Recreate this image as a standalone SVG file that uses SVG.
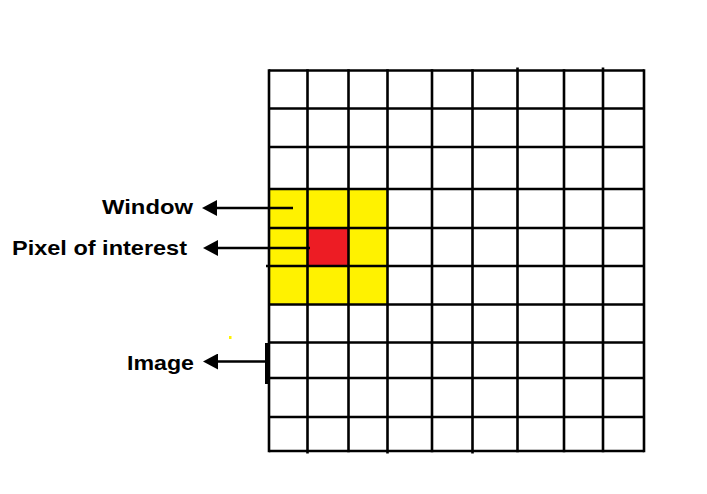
<svg xmlns="http://www.w3.org/2000/svg" width="707" height="494" viewBox="0 0 707 494">
<style>
.g{stroke:#000;stroke-width:2.6;fill:none}
.lbl{font-family:"Liberation Sans",Arial,sans-serif;font-weight:bold;font-size:21px;fill:#000}
.conn{stroke:#000;stroke-width:2.7;fill:none}
</style>
<defs>
<marker id="ah" viewBox="0 0 15 16" markerWidth="15" markerHeight="16" markerUnits="userSpaceOnUse" refX="0" refY="8" orient="auto">
<path d="M0,0 L15,8 L0,16 z" fill="#000"/>
</marker>
</defs>
<rect width="707" height="494" fill="#fff"/>
<g id="window">
<rect x="269" y="189" width="118.5" height="115" fill="#FFF200"/>
</g>
<g id="pixel-of-interest">
<rect x="307.5" y="228" width="41" height="38" fill="#ED1C24"/>
</g>
<g id="image">
<g class="g">
<line x1="269" y1="70.5" x2="644" y2="70.5"/>
<line x1="269" y1="108.5" x2="644" y2="108.5"/>
<line x1="269" y1="147" x2="644" y2="147"/>
<line x1="269" y1="189" x2="644" y2="189"/>
<line x1="269" y1="228" x2="644" y2="228"/>
<line x1="266" y1="266" x2="644" y2="266"/>
<line x1="269" y1="304.5" x2="644" y2="304.5"/>
<line x1="269" y1="342.5" x2="644" y2="342.5"/>
<line x1="269" y1="378" x2="644" y2="378"/>
<line x1="269" y1="417" x2="644" y2="417"/>
<line x1="269" y1="451" x2="644" y2="451"/>
<line x1="269" y1="69.2" x2="269" y2="452.3"/>
<line x1="307.5" y1="69.2" x2="307.5" y2="453.5"/>
<line x1="348.5" y1="69.2" x2="348.5" y2="452.3"/>
<line x1="387.5" y1="69.2" x2="387.5" y2="453.5"/>
<line x1="432" y1="69.2" x2="432" y2="452.3"/>
<line x1="472.5" y1="69.2" x2="472.5" y2="453.5"/>
<line x1="517.5" y1="67.5" x2="517.5" y2="452.3"/>
<line x1="564" y1="69.2" x2="564" y2="452.3"/>
<line x1="603" y1="67.5" x2="603" y2="452.3"/>
<line x1="644" y1="69.2" x2="644" y2="452.3"/>
</g>
<rect x="265" y="343" width="3" height="41" fill="#000"/>
<rect x="229" y="336" width="2.5" height="3" fill="#FFF200"/>
</g>
<g id="labels">
<text class="lbl" x="193" y="214" text-anchor="end" textLength="91" lengthAdjust="spacingAndGlyphs">Window</text>
<text class="lbl" x="12" y="255" textLength="175" lengthAdjust="spacingAndGlyphs">Pixel of interest</text>
<text class="lbl" x="127" y="369.5" textLength="67" lengthAdjust="spacingAndGlyphs">Image</text>
</g>
<g id="connectors">
<line class="conn" x1="293" y1="208" x2="217" y2="208" marker-end="url(#ah)"/>
<line class="conn" x1="310" y1="248" x2="218" y2="248" marker-end="url(#ah)"/>
<line class="conn" x1="267" y1="361.5" x2="218" y2="361.5" marker-end="url(#ah)"/>
</g>
</svg>
